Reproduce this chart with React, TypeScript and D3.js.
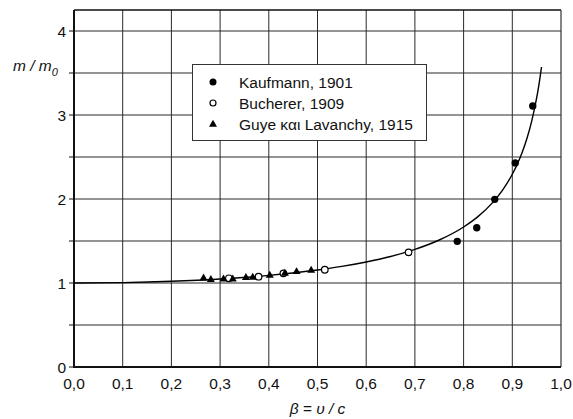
import React from "react";
import * as d3 from "d3";

const W = 573;
const H = 419;

const xTicks = [0, 0.1, 0.2, 0.3, 0.4, 0.5, 0.6, 0.7, 0.8, 0.9, 1.0];
const yGrid = [0, 0.5, 1, 1.5, 2, 2.5, 3, 3.5, 4];
const yLabels = [0, 1, 2, 3, 4];

// Kaufmann, 1901 (filled circles)
const kaufBeta = [0.787, 0.827, 0.864, 0.906, 0.942];
const kaufM = [1.496, 1.658, 1.996, 2.43, 3.107];

// Bucherer, 1909 (open circles)
const buchBeta = [0.318, 0.379, 0.43, 0.515, 0.687];
const buchM = [1.056, 1.075, 1.115, 1.158, 1.365];

// Guye και Lavanchy, 1915 (triangles)
const guyeBeta = [0.266, 0.281, 0.307, 0.326, 0.353, 0.367, 0.402, 0.433, 0.457, 0.487];
const guyeM = [1.063, 1.045, 1.05, 1.052, 1.068, 1.071, 1.095, 1.119, 1.139, 1.155];

// Theoretical curve m/m0 = 1/sqrt(1 - β²) (tabulated)
const curveBeta = [0, 0.1, 0.2, 0.3, 0.4, 0.5, 0.55, 0.6, 0.65, 0.7, 0.75, 0.8, 0.83, 0.86, 0.88, 0.9, 0.91, 0.92, 0.93, 0.94, 0.95, 0.955, 0.96];
const curveM = [1, 1.00504, 1.02062, 1.04828, 1.09109, 1.1547, 1.19737, 1.25, 1.3159, 1.40028, 1.51186, 1.66667, 1.79289, 1.95964, 2.10538, 2.29416, 2.4119, 2.55155, 2.72064, 2.93105, 3.20256, 3.37147, 3.57143];

const legendItems = ["Kaufmann, 1901", "Bucherer, 1909", "Guye και Lavanchy, 1915"];

const FONT = "'Liberation Sans', Arial, sans-serif";
const FS = 15.5;

function Triangle({ cx, cy, s = 8 }: { cx: number; cy: number; s?: number }) {
  const h = s * 0.87;
  const d = `M${cx},${cy - h * 0.6}L${cx + s / 2},${cy + h * 0.4}L${cx - s / 2},${cy + h * 0.4}Z`;
  return <path d={d} fill="#000" />;
}

export default function App() {
  const x = d3.scaleLinear().domain([0, 1]).range([74, 561]);
  const y = d3.scaleLinear().domain([0, 4.25]).range([367, 10]);

  const line = d3
    .line<number>()
    .x((_, i) => x(curveBeta[i]))
    .y((d) => y(d))
    .curve(d3.curveMonotoneX);

  const x0 = x(0), x1 = x(1), y0 = y(0), yTop = y(4.25);

  return (
    <svg width={W} height={H} style={{ position: "absolute", left: 0, top: 0, background: "#fff" }} fontFamily={FONT}>
      <rect x={0} y={0} width={W} height={H} fill="#fff" />
      {/* grid */}
      {xTicks.slice(1, -1).map((t) => (
        <line key={"gx" + t} x1={x(t)} x2={x(t)} y1={yTop} y2={y0} stroke="#2a2a2a" strokeWidth={1} />
      ))}
      {yGrid.slice(1).map((t) => (
        <line key={"gy" + t} x1={x0} x2={x1} y1={y(t)} y2={y(t)} stroke="#2a2a2a" strokeWidth={1} />
      ))}
      {/* frame */}
      <line x1={x0} x2={x1} y1={yTop} y2={yTop} stroke="#111" strokeWidth={1.3} />
      <line x1={x1} x2={x1} y1={yTop} y2={y0} stroke="#333" strokeWidth={1.2} />
      <line x1={x0} x2={x0} y1={yTop} y2={y0 + 1} stroke="#111" strokeWidth={2} />
      <line x1={x0 - 1} x2={x1} y1={y0} y2={y0} stroke="#111" strokeWidth={2} />
      {/* y ticks */}
      {yGrid.map((t) => (
        <line key={"ty" + t} x1={x0 - 5} x2={x0} y1={y(t)} y2={y(t)} stroke="#111" strokeWidth={1} />
      ))}
      {yLabels.map((t) => (
        <text key={"ly" + t} x={x0 - 8} y={y(t) + 5.5} textAnchor="end" fontSize={FS} fill="#111">
          {t}
        </text>
      ))}
      {xTicks.map((t) => (
        <text key={"lx" + t} x={x(t)} y={388.5} textAnchor="middle" fontSize={FS} fill="#111">
          {t.toFixed(1).replace(".", ",")}
        </text>
      ))}
      {/* axis titles */}
      <text x={x(0.5)} y={414} textAnchor="middle" fontSize={FS} fontStyle="italic" fill="#111">
        β = υ / c
      </text>
      <text x={13} y={71} fontSize={FS} fontStyle="italic" fill="#111">
        m / m<tspan fontSize={11} dy={5}>0</tspan>
      </text>
      {/* curve */}
      <path d={line(curveM) || ""} fill="none" stroke="#000" strokeWidth={1.4} />
      {/* data */}
      {buchBeta.map((b, i) => (
        <circle key={"b" + i} cx={x(b)} cy={y(buchM[i])} r={3.3} fill="#fff" stroke="#000" strokeWidth={1.2} />
      ))}
      {guyeBeta.map((b, i) => (
        <Triangle key={"g" + i} cx={x(b)} cy={y(guyeM[i])} />
      ))}
      {kaufBeta.map((b, i) => (
        <circle key={"k" + i} cx={x(b)} cy={y(kaufM[i])} r={3.7} fill="#000" />
      ))}
      {/* legend */}
      <rect x={192.5} y={64.5} width={234} height={76} fill="#fff" stroke="#333" strokeWidth={1} />
      <circle cx={213} cy={82} r={3.5} fill="#000" />
      <circle cx={213} cy={103} r={3} fill="#fff" stroke="#000" strokeWidth={1.2} />
      <Triangle cx={213} cy={124} />
      {legendItems.map((s, i) => (
        <text key={"leg" + i} x={239} y={87.5 + i * 21} fontSize={FS} fill="#111">
          {s}
        </text>
      ))}
    </svg>
  );
}
